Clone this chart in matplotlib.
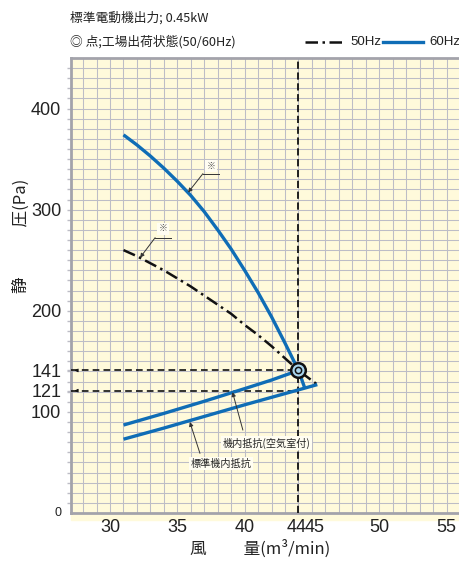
import matplotlib.pyplot as plt
import matplotlib.transforms as mtrans
from matplotlib.lines import Line2D
from matplotlib.patches import Rectangle

# ---- data ----
flow_60 = [31, 32, 33, 34, 35, 36, 37, 38, 39, 40, 41, 42, 43, 44, 44.47]
pres_60 = [374, 364, 353, 341, 328, 314, 298, 280, 261, 240, 218, 194, 168, 141, 123.5]

flow_50 = [31, 32, 33, 34, 35, 36, 37, 38, 39, 40, 41, 42, 43, 44, 45.4]
pres_50 = [260, 254, 247, 240, 232, 224, 215, 206, 197, 186, 176, 165, 153, 141, 127]

# machine resistance with air chamber / standard machine resistance
res_air_flow = [31, 34, 37, 40, 42, 44]
res_air = [87, 98.5, 110.5, 123, 131.5, 141]
res_std_flow = [31, 34, 37, 40, 44, 45.4]
res_std = [73, 84, 95.5, 107, 121.8, 127]

op_flow = 44
op_pres = [141, 121]

xticks = [30, 35, 40, 44, 45, 50, 55]
yticks = [100, 121, 141, 200, 300, 400]

BLUE = '#0f6db6'
BG = '#fffadb'
GRID = '#bdbdc6'
LATIN = ['Liberation Sans', 'Noto Sans CJK JP']
JP = ['Noto Sans CJK JP', 'DejaVu Sans']
plt.rcParams['font.family'] = LATIN

W, H = 460, 561
fig = plt.figure(figsize=(W / 100, H / 100), dpi=100)
ax = fig.add_axes([71 / W, 1 - 513 / H, (460 - 71) / W, (513 - 58) / H])
ax.set_xlim(27.1, 56.0)
ax.set_ylim(0, 450)
ax.set_facecolor(BG)

# pale strip under the plot
fig.add_artist(Rectangle((71 / W, 1 - 520 / H), (460 - 71) / W, 7 / H,
                         transform=fig.transFigure, color=BG, zorder=0))

# grid
for gx in range(28, 57):
    ax.axvline(gx, color=GRID, lw=0.75, zorder=1)
for gy in range(10, 450, 10):
    ax.axhline(gy, color=GRID, lw=0.75, zorder=1)

for s in ['left', 'bottom', 'top']:
    ax.spines[s].set_color('#a3a3ab')
    ax.spines[s].set_linewidth(2)
ax.spines['right'].set_visible(False)

# operating point guides
ax.axvline(op_flow, color='#111', lw=1.3, ls=(0, (4, 2)), zorder=3)
for p in op_pres:
    ax.plot([27.1, op_flow], [p, p], color='#111', lw=1.2, ls=(0, (4, 2.5)), zorder=3)
    ax.annotate('', xy=(27.15, p), xytext=(27.8, p),
                arrowprops=dict(arrowstyle='-|>', lw=0.6, color='#111',
                                mutation_scale=5), zorder=4)

# curves
ax.plot(flow_60, pres_60, color=BLUE, lw=2.4, zorder=5, solid_capstyle='butt')
ax.plot(flow_50, pres_50, color='#111', lw=1.8, ls=(0, (5, 1.8, 1, 1.8)), zorder=5)
ax.plot(res_air_flow, res_air, color=BLUE, lw=2.4, zorder=5, solid_capstyle='butt')
ax.plot(res_std_flow, res_std, color=BLUE, lw=2.4, zorder=5, solid_capstyle='butt')

# factory setting point (double circle)
ax.plot(op_flow, op_pres[0], 'o', ms=10.5, mfc='#a9d5ec', mec='#111', mew=1.8, zorder=7)
ax.plot(op_flow, op_pres[0], 'o', ms=4.5, mfc='#a9d5ec', mec='#111', mew=1.1, zorder=8)

# annotations
lead = dict(arrowstyle='-|>', lw=0.7, color='#333', mutation_scale=6,
            shrinkA=0, shrinkB=0)
box = dict(boxstyle='square,pad=0.15', fc='#fffdf2', ec='none')

ax.plot([36.9, 38.1], [335.6, 335.6], color='#333', lw=0.7, zorder=6)
ax.annotate('', xy=(35.8, 317), xytext=(36.9, 335.6), arrowprops=lead, zorder=6)
ax.text(37.5, 343, '※', fontsize=6.5, color='#555', ha='center', va='center',
        family=JP, bbox=box, zorder=6)

ax.plot([33.35, 34.55], [272.3, 272.3], color='#333', lw=0.7, zorder=6)
ax.annotate('', xy=(32.23, 252.5), xytext=(33.35, 272.3), arrowprops=lead, zorder=6)
ax.text(33.95, 281, '※', fontsize=6.5, color='#555', ha='center', va='center',
        family=JP, bbox=box, zorder=6)

ax.annotate('', xy=(39.1, 119.5), xytext=(39.87, 82), arrowprops=lead, zorder=6)
ax.text(41.65, 69, '機内抵抗(空気室付)', fontsize=7.3, color='#222', ha='center',
        va='center', family=JP, bbox=box, zorder=6)

ax.annotate('', xy=(35.93, 90), xytext=(36.68, 59), arrowprops=lead, zorder=6)
ax.text(38.23, 49, '標準機内抵抗', fontsize=7.3, color='#222', ha='center',
        va='center', family=JP, bbox=box, zorder=6)

# ticks
ax.set_xticks(xticks)
ax.set_xticklabels([str(t) for t in xticks], fontsize=13, color='#222')
ax.set_yticks(yticks)
ax.set_yticklabels([str(t) for t in yticks], fontsize=13, color='#222')
ax.set_yticks(range(10, 450, 10), minor=True)
ax.set_xticks([], minor=True)
ax.tick_params(axis='x', length=0, pad=4)
ax.tick_params(axis='y', which='both', length=3, color=GRID, width=1, pad=4)

# nudge the crowded 44 / 45 labels apart
for lab in ax.get_xticklabels():
    if lab.get_text() == '44':
        lab.set_transform(lab.get_transform() + mtrans.ScaledTranslation(-2 / 100, 0, fig.dpi_scale_trans))
    elif lab.get_text() == '45':
        lab.set_transform(lab.get_transform() + mtrans.ScaledTranslation(3 / 100, 0, fig.dpi_scale_trans))

fig.text(62 / W, 1 - 513 / H, '0', fontsize=9, color='#222', ha='right', va='center')

# axis titles
fig.text(21 / W, 1 - 236 / H, '静　　　圧(Pa)', rotation=90, fontsize=12,
         family=JP, color='#222', ha='center', va='center')
fig.text(260 / W, 1 - 549 / H, '風　　 量(m³/min)', fontsize=12,
         family=JP, color='#222', ha='center', va='center')

# header
fig.text(70 / W, 1 - 18 / H, '標準電動機出力; 0.45kW', fontsize=9.2,
         family=JP, color='#222', ha='left', va='center')
fig.text(70 / W, 1 - 42 / H, '◎ 点;工場出荷状態(50/60Hz)', fontsize=9.2,
         family=JP, color='#222', ha='left', va='center')

fig.add_artist(Line2D([305 / W, 344 / W], [1 - 42 / H] * 2, color='#111', lw=1.8,
                      ls=(0, (5, 1.8, 1, 1.8))))
fig.text(350 / W, 1 - 42 / H, '50Hz', fontsize=9.5, color='#222',
         ha='left', va='center')
fig.add_artist(Line2D([383 / W, 423 / W], [1 - 42 / H] * 2, color=BLUE, lw=2.4))
fig.text(429 / W, 1 - 42 / H, '60Hz', fontsize=9.5, color='#222',
         ha='left', va='center')

fig.savefig('out.png', dpi=100)
